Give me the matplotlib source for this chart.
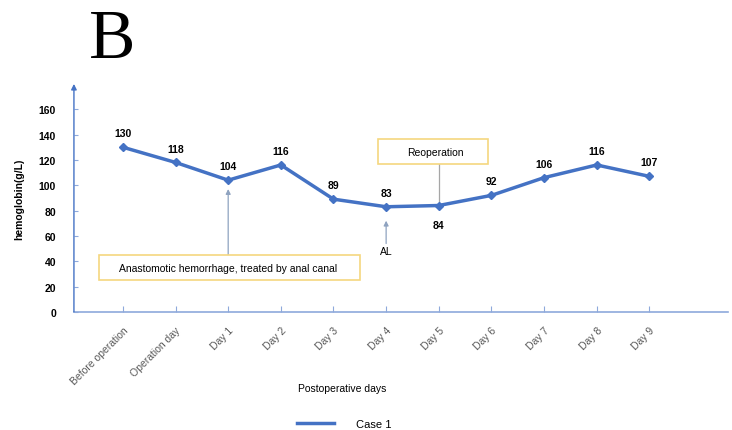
import matplotlib
matplotlib.use("Agg")
import matplotlib.pyplot as plt
from matplotlib.lines import Line2D
from matplotlib.patches import Rectangle

plt.rcParams['font.family'] = ['Liberation Sans', 'DejaVu Sans']

# data
days = ['Before operation', 'Operation day', 'Day 1', 'Day 2', 'Day 3', 'Day 4',
        'Day 5', 'Day 6', 'Day 7', 'Day 8', 'Day 9']
hemoglobin = [130, 118, 104, 116, 89, 83, 84, 92, 106, 116, 107]
y_ticks = [0, 20, 40, 60, 80, 100, 120, 140, 160]

line_color = '#4472C4'
axis_color = '#8EA9DB'
box_edge = '#F5D77F'
note_color = '#8FA3C0'

fig = plt.figure(figsize=(7.32, 4.31), dpi=100)
ax = fig.add_axes([0.101, 0.274, 0.894, 0.529])

x = list(range(len(days)))
ax.plot(x, hemoglobin, color=line_color, lw=2.5, marker='D', markersize=4.5,
        label='Case 1', zorder=3)

# value labels
for i, v in enumerate(hemoglobin):
    if days[i] == 'Day 5':
        ax.annotate(str(v), (i, v), xytext=(0, -14), textcoords='offset points',
                    ha='center', va='center', fontsize=7.5, fontweight='bold')
    else:
        ax.annotate(str(v), (i, v), xytext=(0, 10), textcoords='offset points',
                    ha='center', va='center', fontsize=7.5, fontweight='bold')

ax.set_xlim(-0.93, 11.5)
ax.set_ylim(0, 180)
ax.set_yticks(y_ticks)
ax.set_yticklabels([str(t) for t in y_ticks], fontweight='bold', fontsize=7.5)
ax.set_xticks(x)
ax.set_xticklabels(days, rotation=45, ha='right', rotation_mode='anchor',
                   fontsize=7.5, color='#595959')
ax.tick_params(axis='y', direction='in', length=3, color=axis_color, pad=13)
ax.tick_params(axis='x', direction='in', length=4, color=axis_color, pad=9)

for s in ['top', 'right', 'left']:
    ax.spines[s].set_visible(False)
ax.spines['bottom'].set_color(axis_color)
ax.spines['bottom'].set_linewidth(1.2)

# y axis with arrow head
ax.annotate('', xy=(0, 1.0), xytext=(0, 0), xycoords='axes fraction',
            arrowprops=dict(arrowstyle='-|>', color=line_color, lw=1.0,
                            mutation_scale=8, shrinkA=0, shrinkB=0))

ax.set_ylabel('hemoglobin(g/L)', fontsize=7.5, fontweight='bold', labelpad=10)
ax.set_xlabel('Postoperative days', fontsize=7.5)
ax.xaxis.set_label_coords(0.41, -0.31)

# annotations
ax.annotate('', xy=(2, 97), xytext=(2, 45),
            arrowprops=dict(arrowstyle='-|>', color=note_color, lw=0.9,
                            mutation_scale=7, shrinkA=0, shrinkB=0))
ax.add_patch(Rectangle((-0.46, 25.2), 4.96, 19.7, fc='white', ec=box_edge,
                       lw=1.2, zorder=4))
ax.text(2, 35, 'Anastomotic hemorrhage, treated by anal canal', ha='center',
        va='center', fontsize=7.5, zorder=5)

ax.plot([6, 6], [84, 117], color='#A6A6A6', lw=0.9, zorder=2)
ax.add_patch(Rectangle((4.85, 116.5), 2.09, 19.7, fc='white', ec=box_edge,
                       lw=1.2, zorder=4))
ax.text(5.93, 126.5, 'Reoperation', ha='center', va='center', fontsize=7.5,
        zorder=5)

ax.annotate('', xy=(5, 72), xytext=(5, 54),
            arrowprops=dict(arrowstyle='-|>', color=note_color, lw=0.9,
                            mutation_scale=7, shrinkA=0, shrinkB=0))
ax.text(5, 48, 'AL', ha='center', va='center', fontsize=7.5)

# panel letter
fig.text(0.122, 0.865, 'B', family='Liberation Serif', fontsize=50,
         ha='left', va='baseline')

handle = Line2D([], [], color=line_color, lw=2.5)
fig.legend([handle], ['Case 1'], loc='center', bbox_to_anchor=(0.47, 0.015),
           frameon=False, fontsize=8, handlelength=3.3, handletextpad=2.0)

fig.savefig('out.png', dpi=100)
